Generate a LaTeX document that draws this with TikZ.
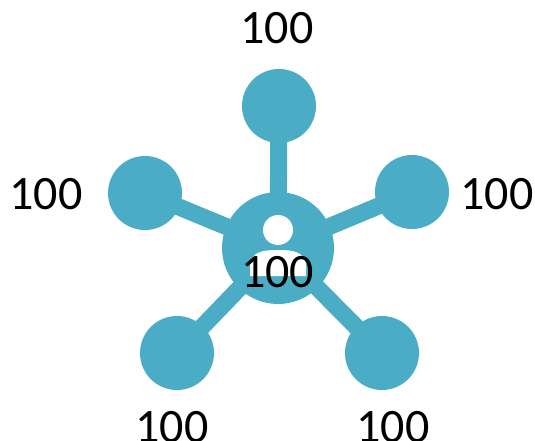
\documentclass[tikz,border=0pt]{standalone}
\usepackage{fontspec}
\setmainfont{Carlito}
\usepackage{xcolor}
\definecolor{hubblue}{RGB}{75, 172, 198}
\usepackage{tikz}
\usetikzlibrary{backgrounds}

\begin{document}
\begin{tikzpicture}[x=1pt, y=-1pt]

  \tikzstyle{leaf} = [
    circle, draw=none, fill=hubblue,
    minimum size=74pt, inner sep=0pt
  ]
  \tikzstyle{numlabel} = [
    inner sep=0pt, font=\fontsize{48}{48}\selectfont, text=black
  ]

  \useasboundingbox (0,0) rectangle (535,441);

  \node[circle, fill=hubblue, minimum size=112pt, inner sep=0pt] (hub) at (278,248) {};

  \node[leaf] (top)   at (279,106) {};
  \node[leaf] (left)  at (145,193) {};
  \node[leaf] (right) at (412,192) {};
  \node[leaf] (botl)  at (177,353) {};
  \node[leaf] (botr)  at (382,353) {};

  \begin{scope}[on background layer]
    \draw[line width=17pt, color=hubblue] (hub.center) -- (top.center);
    \draw[line width=17pt, color=hubblue] (hub.center) -- (left.center);
    \draw[line width=17pt, color=hubblue] (hub.center) -- (right.center);
    \draw[line width=17pt, color=hubblue] (hub.center) -- (botl.center);
    \draw[line width=17pt, color=hubblue] (hub.center) -- (botr.center);
  \end{scope}

  % person inside the hub
  \node[circle, fill=white, minimum size=30pt, inner sep=0pt] (head) at (278,230) {};
  \fill[white] (250,276) -- (250,264) .. controls (252,252) and (262,250) .. (278,250)
    .. controls (294,250) and (304,252) .. (306,264) -- (306,276) -- cycle;

  \node[numlabel] (ltop)   at (277,28.5) {100};
  \node[numlabel] (lleft)  at (46,194.5) {100};
  \node[numlabel] (lright) at (497,194) {100};
  \node[numlabel] (lbotl)  at (172,427.5) {100};
  \node[numlabel] (lbotr)  at (393,427.5) {100};
  \node[numlabel] (lhub)   at (277.5,272) {100};

\end{tikzpicture}
\end{document}
